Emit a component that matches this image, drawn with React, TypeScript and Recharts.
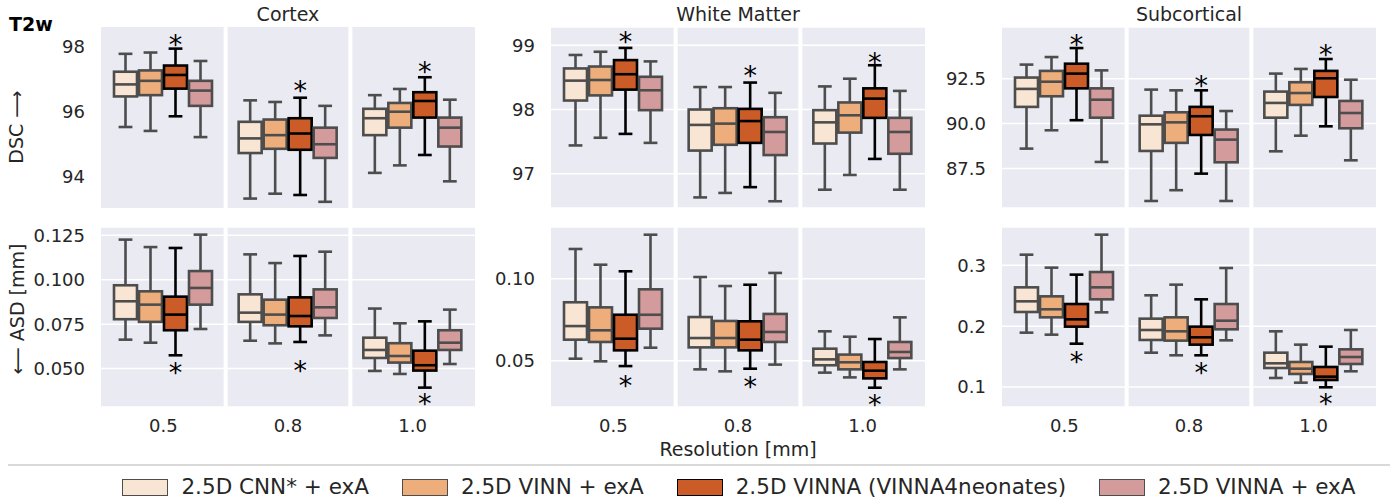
import { ComposedChart, Bar, XAxis, YAxis, CartesianGrid, ReferenceLine } from 'recharts';

const FONT = '"DejaVu Sans", sans-serif';
const INK = '#262626';

const resolutions = ['0.5', '0.8', '1.0'];
const methods = ['2.5D CNN* + exA', '2.5D VINN + exA', '2.5D VINNA (VINNA4neonates)', '2.5D VINNA + exA'];
const fills = ['#f8e5d3', '#edae7b', '#cb5c28', '#d49b9c'];
const edges = ['#4d4d4d', '#4d4d4d', '#000000', '#4d4d4d'];

// each box: [lower whisker, q1, median, q3, upper whisker], one per resolution
const cortexDscCnn = [[95.54, 96.48, 96.85, 97.24, 97.79], [93.34, 94.74, 95.19, 95.7, 96.36], [94.13, 95.29, 95.81, 96.1, 96.52]];
const cortexDscVinn = [[95.42, 96.52, 96.96, 97.28, 97.83], [93.49, 94.87, 95.29, 95.77, 96.31], [94.36, 95.52, 96.01, 96.28, 96.71]];
const cortexDscVinna = [[95.87, 96.72, 97.14, 97.43, 97.95], [93.45, 94.84, 95.34, 95.81, 96.44], [94.68, 95.83, 96.34, 96.61, 97.07]];
const cortexDscExa = [[95.23, 96.19, 96.66, 96.96, 97.57], [93.24, 94.59, 95.01, 95.52, 96.19], [93.87, 94.94, 95.52, 95.83, 96.38]];
const cortexDscStars = [98.23, 96.82, 97.42];

const cortexAsdCnn = [[0.0663, 0.0778, 0.0879, 0.0969, 0.1226], [0.0657, 0.0763, 0.0815, 0.0918, 0.1143], [0.0487, 0.056, 0.0605, 0.0674, 0.0838]];
const cortexAsdVinn = [[0.0646, 0.0763, 0.086, 0.0935, 0.1184], [0.0642, 0.0744, 0.0804, 0.0888, 0.1094], [0.047, 0.0534, 0.0571, 0.0643, 0.0755]];
const cortexAsdVinna = [[0.0575, 0.0716, 0.0804, 0.0905, 0.1179], [0.065, 0.0738, 0.0796, 0.0901, 0.1134], [0.0393, 0.0489, 0.0519, 0.0601, 0.0766]];
const cortexAsdExa = [[0.0723, 0.086, 0.0954, 0.1049, 0.1254], [0.0687, 0.0785, 0.0845, 0.0946, 0.1158], [0.0526, 0.0605, 0.0646, 0.0716, 0.0832]];
const cortexAsdStars = [0.0509, 0.0522, 0.0335];

const wmDscCnn = [[97.44, 98.14, 98.45, 98.64, 98.85], [96.63, 97.36, 97.76, 98.0, 98.35], [96.75, 97.47, 97.8, 97.99, 98.36]];
const wmDscVinn = [[97.56, 98.22, 98.46, 98.67, 98.9], [96.7, 97.45, 97.78, 98.02, 98.35], [96.98, 97.64, 97.91, 98.11, 98.48]];
const wmDscVinna = [[97.62, 98.31, 98.55, 98.77, 98.96], [96.79, 97.48, 97.82, 98.01, 98.42], [97.23, 97.87, 98.17, 98.33, 98.69]];
const wmDscExa = [[97.48, 97.99, 98.3, 98.51, 98.75], [96.57, 97.29, 97.65, 97.88, 98.26], [96.75, 97.31, 97.65, 97.87, 98.29]];
const wmDscStars = [99.15, 98.61, 98.82];

const wmAsdCnn = [[0.0512, 0.0628, 0.0711, 0.0856, 0.1181], [0.0447, 0.0581, 0.0638, 0.0766, 0.101], [0.0427, 0.0472, 0.0508, 0.0573, 0.0679]];
const wmAsdVinn = [[0.0496, 0.0614, 0.0685, 0.0825, 0.1085], [0.0435, 0.0581, 0.0638, 0.0742, 0.0955], [0.0398, 0.0447, 0.049, 0.0537, 0.0646]];
const wmAsdVinna = [[0.0467, 0.0563, 0.0634, 0.078, 0.1045], [0.0451, 0.0563, 0.0628, 0.074, 0.0963], [0.0335, 0.0392, 0.0439, 0.0492, 0.0632]];
const wmAsdExa = [[0.0579, 0.0695, 0.078, 0.0935, 0.1268], [0.0476, 0.0614, 0.0675, 0.0785, 0.1035], [0.0447, 0.0516, 0.0553, 0.0614, 0.0764]];
const wmAsdStars = [0.0382, 0.0374, 0.0268];

const subDscCnn = [[88.61, 90.93, 91.93, 92.56, 93.28], [85.7, 88.48, 89.96, 90.44, 91.89], [88.46, 90.33, 91.15, 91.78, 92.78]];
const subDscVinn = [[89.63, 91.52, 92.33, 92.93, 93.7], [86.3, 88.93, 90.07, 90.63, 91.85], [89.33, 91.04, 91.7, 92.3, 93.04]];
const subDscVinna = [[90.19, 91.96, 92.78, 93.33, 94.2], [87.22, 89.37, 90.41, 90.93, 91.85], [89.85, 91.48, 92.52, 92.93, 93.59]];
const subDscExa = [[87.87, 90.33, 91.33, 91.96, 92.96], [85.7, 87.85, 89.11, 89.67, 90.7], [87.96, 89.74, 90.59, 91.26, 92.44]];
const subDscStars = [94.7, 92.41, 94.15];

const subAsdCnn = [[0.1893, 0.2233, 0.2408, 0.2638, 0.3175], [0.1564, 0.1773, 0.1937, 0.2123, 0.2507], [0.1148, 0.1312, 0.1389, 0.1564, 0.1915]];
const subAsdVinn = [[0.186, 0.2145, 0.2277, 0.249, 0.2962], [0.1521, 0.1762, 0.1915, 0.2145, 0.2682], [0.1071, 0.1214, 0.1301, 0.1411, 0.1696]];
const subAsdVinna = [[0.1712, 0.1992, 0.2112, 0.2364, 0.2847], [0.1521, 0.1696, 0.1816, 0.1992, 0.2441], [0.0995, 0.1115, 0.117, 0.1329, 0.1663]];
const subAsdExa = [[0.2227, 0.2441, 0.2638, 0.289, 0.3504], [0.1767, 0.1948, 0.209, 0.2364, 0.2956], [0.1258, 0.1378, 0.1493, 0.1619, 0.1937]];
const subAsdStars = [0.151, 0.1329, 0.0819];

const cortexDscTicks = [94, 96, 98];
const cortexAsdTicks = [0.05, 0.075, 0.1, 0.125];
const wmDscTicks = [97, 98, 99];
const wmAsdTicks = [0.05, 0.1];
const subDscTicks = [87.5, 90, 92.5];
const subAsdTicks = [0.1, 0.2, 0.3];

const regions = ['Cortex', 'White Matter', 'Subcortical'];

function BoxShape(props: any) {
  const { x, y, width, height, payload, k } = props;
  const b: number[] = payload.boxes[k];
  const lo = b[0];
  const hi = b[4];
  const top = height >= 0 ? y : y + height;
  const h = Math.abs(height);
  const py = (v: number) => top + ((hi - v) / (hi - lo)) * h;
  const cx = x + width / 2;
  const cap = width * 0.3;
  const edge = edges[k];
  const sw = 2.6;
  const fs = 27;
  return (
    <g>
      <line x1={cx} x2={cx} y1={py(b[4])} y2={py(b[3])} stroke={edge} strokeWidth={sw} />
      <line x1={cx} x2={cx} y1={py(b[1])} y2={py(b[0])} stroke={edge} strokeWidth={sw} />
      <line x1={cx - cap} x2={cx + cap} y1={py(b[4])} y2={py(b[4])} stroke={edge} strokeWidth={sw} />
      <line x1={cx - cap} x2={cx + cap} y1={py(b[0])} y2={py(b[0])} stroke={edge} strokeWidth={sw} />
      <rect x={x} y={py(b[3])} width={width} height={py(b[1]) - py(b[3])} fill={fills[k]} stroke={edge} strokeWidth={sw} />
      <line x1={x} x2={x + width} y1={py(b[2])} y2={py(b[2])} stroke={edge} strokeWidth={sw} />
      {k === 2 && (
        <text x={cx} y={py(payload.star) + fs * 0.55} textAnchor="middle" fontSize={fs} fontFamily={FONT} fill="#000">
          *
        </text>
      )}
    </g>
  );
}

interface PanelProps {
  left: number;
  top: number;
  series: number[][][];
  stars: number[];
  domain: [number, number];
  ticks: number[];
  digits: number;
  grid: boolean;
  showX: boolean;
}

const PAD = 12;

function Panel({ left, top, series, stars, domain, ticks, digits, grid, showX }: PanelProps) {
  const data = resolutions.map((res, i) => ({ res, boxes: series.map((s) => s[i]), star: stars[i] }));
  const plotH = showX ? 180 : 181;
  return (
    <div style={{ position: 'absolute', left, top: top - PAD }}>
      <ComposedChart
        width={464}
        height={plotH + PAD + (showX ? 40 : 0)}
        data={data}
        margin={{ top: PAD, right: 0, bottom: 0, left: 0 }}
        barCategoryGap={13}
        barGap={2}
        style={{ overflow: 'visible' }}
      >
        <CartesianGrid fill="#eaeaf2" fillOpacity={1} stroke="#ffffff" strokeWidth={1.5} vertical={false} horizontal={grid} />
        <XAxis
          dataKey="res"
          hide={!showX}
          height={40}
          axisLine={false}
          tickLine={false}
          tickSize={0}
          tickMargin={12}
          tick={{ fontSize: 18, fill: INK, fontFamily: FONT }}
        />
        <YAxis
          type="number"
          domain={domain}
          ticks={ticks}
          interval={0}
          allowDataOverflow
          width={90}
          axisLine={false}
          tickLine={false}
          tickSize={0}
          tickMargin={16}
          tick={{ fontSize: 18, fill: INK, fontFamily: FONT }}
          tickFormatter={(v: number) => v.toFixed(digits)}
        />
        {resolutions.slice(1).map((r) => (
          <ReferenceLine key={r} x={r} position="start" stroke="#ffffff" strokeWidth={4} />
        ))}
        {series.map((_, k) => (
          <Bar
            key={k}
            dataKey={(d: any) => [d.boxes[k][0], d.boxes[k][4]]}
            isAnimationActive={false}
            shape={(p: any) => <BoxShape {...p} k={k} />}
          />
        ))}
      </ComposedChart>
    </div>
  );
}

export default function App() {
  const lefts = [11, 461, 912];
  return (
    <div style={{ position: 'absolute', left: 0, top: 0, width: 1398, height: 502, background: '#fff', fontFamily: FONT, color: INK }}>
      <Panel left={lefts[0]} top={27} series={[cortexDscCnn, cortexDscVinn, cortexDscVinna, cortexDscExa]} stars={cortexDscStars} domain={[93.05, 98.615]} ticks={cortexDscTicks} digits={0} grid={false} showX={false} />
      <Panel left={lefts[1]} top={27} series={[wmDscCnn, wmDscVinn, wmDscVinna, wmDscExa]} stars={wmDscStars} domain={[96.465, 99.286]} ticks={wmDscTicks} digits={0} grid showX={false} />
      <Panel left={lefts[2]} top={27} series={[subDscCnn, subDscVinn, subDscVinna, subDscExa]} stars={subDscStars} domain={[85.31, 95.37]} ticks={subDscTicks} digits={1} grid showX={false} />
      <Panel left={lefts[0]} top={227} series={[cortexAsdCnn, cortexAsdVinn, cortexAsdVinna, cortexAsdExa]} stars={cortexAsdStars} domain={[0.0284, 0.1297]} ticks={cortexAsdTicks} digits={3} grid showX />
      <Panel left={lefts[1]} top={227} series={[wmAsdCnn, wmAsdVinn, wmAsdVinna, wmAsdExa]} stars={wmAsdStars} domain={[0.02175, 0.1315]} ticks={wmAsdTicks} digits={2} grid showX />
      <Panel left={lefts[2]} top={227} series={[subAsdCnn, subAsdVinn, subAsdVinna, subAsdExa]} stars={subAsdStars} domain={[0.0671, 0.363]} ticks={subAsdTicks} digits={1} grid showX />

      <svg width={1398} height={502} style={{ position: 'absolute', left: 0, top: 0, pointerEvents: 'none' }}>
        <text x={9} y={31} fontSize={19} fontWeight="bold" fill="#000" fontFamily={FONT}>T2w</text>
        {regions.map((r, i) => (
          <text key={r} x={lefts[i] + 90 + 187} y={21} fontSize={19} textAnchor="middle" fill={INK} fontFamily={FONT}>{r}</text>
        ))}
        <text transform="translate(23,127) rotate(-90)" fontSize={19} textAnchor="middle" fill={INK} fontFamily={FONT}>DSC ⟶</text>
        <text transform="translate(24,309) rotate(-90)" fontSize={19} textAnchor="middle" fill={INK} fontFamily={FONT}>⟵ ASD [mm]</text>
        <text x={738} y={456} fontSize={19} textAnchor="middle" fill={INK} fontFamily={FONT}>Resolution [mm]</text>
        <line x1={8} x2={1390} y1={465} y2={465} stroke="#cccccc" strokeWidth={1.5} />
      </svg>

      <div style={{ position: 'absolute', left: 40, top: 473, width: 1398, display: 'flex', justifyContent: 'center', gap: 33, fontSize: 21.5, lineHeight: '28px' }}>
        {methods.map((m, k) => (
          <div key={m} style={{ display: 'flex', alignItems: 'center', gap: 13 }}>
            <span style={{ display: 'inline-block', width: 44, height: 15, background: fills[k], border: `1.5px solid ${edges[k]}` }} />
            <span style={{ whiteSpace: 'nowrap' }}>{m}</span>
          </div>
        ))}
      </div>
    </div>
  );
}
